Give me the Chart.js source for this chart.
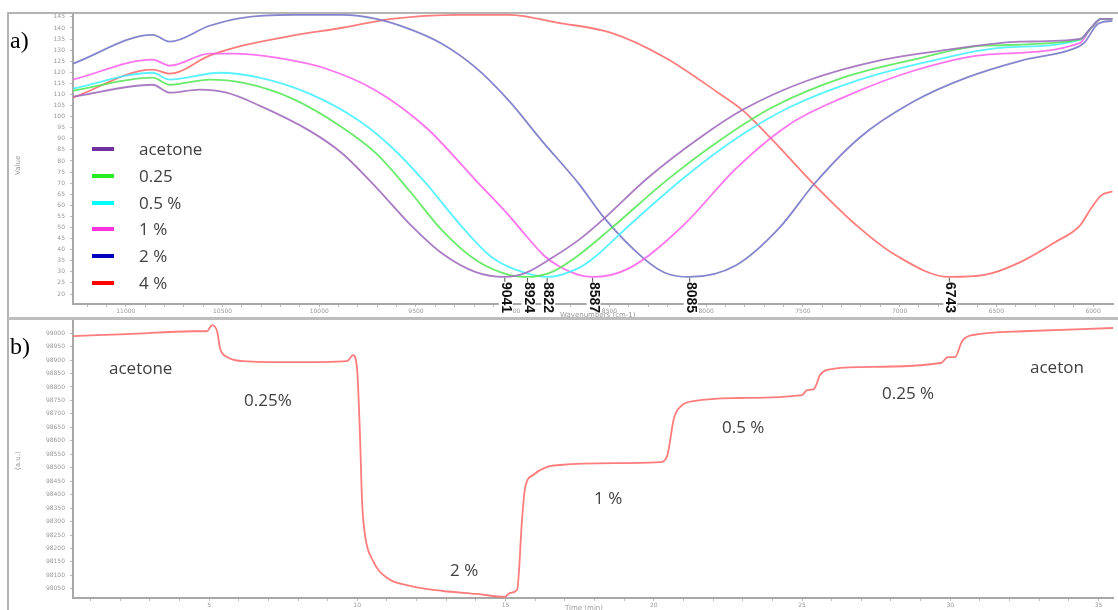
<!DOCTYPE html>
<html>
<head>
<meta charset="utf-8">
<script src="https://cdn.jsdelivr.net/npm/chart.js@4.4.1/dist/chart.umd.min.js"></script>
<style>
  html, body { margin:0; padding:0; background:#fff; }
  body { width:1118px; height:610px; position:relative; overflow:hidden; font-family:"Open Sans", sans-serif; }
  .abs { position:absolute; }
  .lbl { position:absolute; color:#404040; font-family:"Open Sans", sans-serif; font-size:17px; white-space:nowrap; line-height:1; }
  .panel { position:absolute; font-family:"Liberation Serif", serif; font-size:24px; color:#000; line-height:1; }
  .tiny { position:absolute; color:#999; font-size:7px; font-family:"DejaVu Sans", sans-serif; white-space:nowrap; }
  .leg { position:absolute; left:92px; width:22px; height:4px; }
</style>
</head>
<body>
<div class="abs" style="left:0;top:0;width:1118px;height:318px;"><canvas id="ca" width="1118" height="318"></canvas></div>
<div class="abs" style="left:0;top:318px;width:1118px;height:292px;"><canvas id="cb" width="1118" height="292"></canvas></div>

<div class="abs" style="left:8px;top:12px;width:1110px;height:2px;background:#b4b4b4;"></div>
<div class="abs" style="left:7px;top:12px;width:2px;height:598px;background:#b4b4b4;"></div>
<div class="abs" style="left:8px;top:317px;width:1110px;height:3px;background:#bdbdbd;"></div>

<div class="panel" style="left:10px;top:28px;">a)</div>
<div class="panel" style="left:10px;top:334px;">b)</div>

<div class="leg" style="top:147px;background:#7030a0;"></div>
<div class="leg" style="top:174px;background:#22ee22;"></div>
<div class="leg" style="top:201px;background:#00ffff;"></div>
<div class="leg" style="top:227px;background:#ff33dd;"></div>
<div class="leg" style="top:254px;background:#0000bb;"></div>
<div class="leg" style="top:281px;background:#ff0000;"></div>
<div class="lbl" style="left:139px;top:140px;">acetone</div>
<div class="lbl" style="left:139px;top:167px;">0.25</div>
<div class="lbl" style="left:139px;top:194px;">0.5 %</div>
<div class="lbl" style="left:139px;top:220px;">1 %</div>
<div class="lbl" style="left:139px;top:247px;">2 %</div>
<div class="lbl" style="left:139px;top:274px;">4 %</div>

<div class="lbl" style="left:109px;top:359px;">acetone</div>
<div class="lbl" style="left:244px;top:391px;">0.25%</div>
<div class="lbl" style="left:450px;top:561px;">2 %</div>
<div class="lbl" style="left:594px;top:489px;">1 %</div>
<div class="lbl" style="left:722px;top:418px;">0.5 %</div>
<div class="lbl" style="left:882px;top:384px;">0.25 %</div>
<div class="lbl" style="left:1030px;top:358px;">aceton</div>

<div class="tiny" style="left:560px;top:311px;">Wavenumbers (cm-1)</div>
<div class="tiny" style="transform:rotate(-90deg);transform-origin:left top;top:175px;left:14px;">Value</div>
<div class="tiny" style="left:14px;top:470px;transform:rotate(-90deg);transform-origin:left top;">(a.u.)</div>
<div class="tiny" style="left:565px;top:604px;">Time (min)</div>

<script>
// ---------- Panel a: spectra (wavenumber cm-1, value) ----------
const wnAcetone = [11273,10861,10773,10619,10479,10309,10051,9881,9706,9536,9366,9191,9041,8933,8799,8660,8526,8304,8031,7809,7479,7113,6747,6376,6067,6010,5958,5900];
const vAcetone  = [109.0,114.4,110.8,112.2,110.8,105.0,93.7,83.4,68.1,51.9,38.4,29.9,27.7,29.5,36.2,44.3,54.2,72.2,90.6,103.2,116.2,125.2,130.2,133.8,135.1,140.1,144.1,144.1];

const wn025 = [11273,10861,10773,10567,10397,10139,9881,9706,9536,9366,9191,9020,8924,8799,8660,8490,8211,7938,7660,7293,6928,6561,6067,6010,5958,5900];
const v025  = [111.7,117.6,114.4,116.7,115.3,108.1,95.1,83.4,66.8,48.8,35.3,28.6,27.7,29.9,37.5,49.7,70.8,88.8,104.1,117.6,125.7,132.0,134.7,140.1,144.1,144.1];

const wn05 = [11273,10861,10773,10515,10309,10051,9794,9624,9448,9278,9108,8933,8822,8660,8577,8397,8118,7845,7572,7206,6835,6469,6067,6010,5958,5900];
const v05  = [112.6,119.8,116.7,119.8,117.6,110.4,98.2,86.1,69.9,51.9,36.6,29.5,27.7,31.7,36.6,51.0,72.2,90.1,104.1,116.7,125.2,131.1,134.7,140.1,144.1,144.1];

const wn1 = [11273,10861,10773,10567,10448,10222,9964,9706,9448,9191,9020,8933,8840,8763,8660,8587,8397,8118,7845,7572,7293,6928,6561,6067,6010,5958,5900];
const v1  = [116.7,125.7,123.0,128.4,128.4,126.6,121.6,111.7,95.1,71.3,55.5,46.5,37.5,32.6,28.6,27.7,31.7,51.0,76.7,96.4,108.6,120.7,127.9,133.3,140.1,144.1,144.1];

const wn2 = [11273,10861,10773,10567,10397,10139,9881,9706,9536,9366,9191,9020,8850,8660,8526,8325,8211,8085,7845,7623,7443,7206,6928,6654,6376,6103,6046,5974,5900];
const v2  = [123.9,136.9,133.8,141.0,144.6,145.9,145.9,144.1,139.6,132.9,122.1,107.2,89.2,69.9,54.2,36.2,29.5,27.7,33.0,49.7,69.5,90.6,106.8,117.6,125.2,130.6,133.3,141.9,143.2];

const wn4 = [11273,10861,10773,10567,10397,10139,9881,9624,9278,9020,8763,8490,8211,7938,7809,7660,7443,7206,7020,6743,6561,6376,6196,6067,6010,5958,5900];
const v4  = [108.6,121.2,119.4,127.5,132.0,136.5,140.1,144.1,145.9,145.9,142.3,137.8,126.6,110.8,102.7,89.7,69.5,49.7,37.5,27.7,28.6,34.4,43.4,51.0,58.7,64.5,66.3];

const peakWn = [9041, 8924, 8822, 8587, 8085, 6743];
const peakLabels = ["9041", "8924", "8822", "8587", "8085", "6743"];
const peakValue = 27.7;

const wnTickLabels = [11000,10500,10000,9500,9000,8500,8000,7500,7000,6500,6000];
const valueTickLabels = [145,140,135,130,125,120,115,110,105,100,95,90,85,80,75,70,65,60,55,50,45,40,35,30,25,20];

// ---------- Panel b: time trace ----------
const timeB = [0.41,2.23,4.46,4.93,5.10,5.27,5.37,5.61,6.15,7.83,9.65,9.86,9.99,10.09,10.16,10.26,10.53,11.00,11.78,12.89,14.04,14.98,15.15,15.39,15.56,15.66,15.93,16.40,16.84,18.63,20.21,20.45,20.68,20.92,21.39,22.84,25.00,25.17,25.40,25.61,25.84,27.02,29.69,29.92,30.16,30.40,30.77,32.45,35.49];
const signalB = [98989,98996,99007,99007,99030,99007,98944,98911,98896,98892,98896,98918,98870,98621,98376,98250,98154,98091,98061,98042,98031,98020,98035,98046,98313,98425,98473,98503,98510,98517,98521,98543,98684,98729,98748,98759,98770,98788,98792,98844,98863,98874,98889,98911,98911,98970,98993,99007,99019];
const timeTickLabels = [5,10,15,20,25,30,35];
const signalTickLabels = [99000,98950,98900,98850,98800,98750,98700,98650,98600,98550,98500,98450,98400,98350,98300,98250,98200,98150,98100,98050];

function pts(xs, ys) { return xs.map((x, i) => ({x: x, y: ys[i]})); }

const axisColor = '#a8a8a8';
const tickFont = {size: 6, family: 'DejaVu Sans'};

function noPadY(s, w) { s.width = w; s.paddingTop = 0; s.paddingBottom = 0; }
function noPadX(s, h) { s.height = h; s.paddingLeft = 0; s.paddingRight = 0; }

const peakPlugin = {
  id: 'peaks',
  afterDraw(chart) {
    const ctx = chart.ctx;
    const xs = chart.scales.x, ys = chart.scales.y;
    const yTop = ys.getPixelForValue(peakValue) + 1;
    ctx.save();
    peakWn.forEach((w, i) => {
      const x = xs.getPixelForValue(w);
      ctx.fillStyle = '#fff';
      ctx.fillRect(x - 6, yTop + 3, 14, 36);
      ctx.strokeStyle = '#555';
      ctx.lineWidth = 1;
      ctx.beginPath(); ctx.moveTo(x, yTop); ctx.lineTo(x, yTop + 4); ctx.stroke();
      ctx.translate(x + 1, yTop + 4);
      ctx.rotate(Math.PI / 2);
      ctx.fillStyle = '#111';
      ctx.font = 'bold 14px "Liberation Sans", Arial, sans-serif';
      ctx.textBaseline = 'middle';
      ctx.textAlign = 'left';
      ctx.fillText(peakLabels[i], 0, 0);
      ctx.setTransform(1, 0, 0, 1, 0, 0);
    });
    ctx.restore();
  }
};

function lineDs(label, data, color) {
  return { label: label, data: data, borderColor: color, borderWidth: 1.8, pointRadius: 0,
           fill: false, cubicInterpolationMode: 'monotone' };
}

new Chart(document.getElementById('ca'), {
  type: 'line',
  data: {
    datasets: [
      lineDs('acetone', pts(wnAcetone, vAcetone), 'rgba(160,110,190,0.9)'),
      lineDs('0.25', pts(wn025, v025), 'rgba(80,230,80,0.85)'),
      lineDs('0.5 %', pts(wn05, v05), 'rgba(60,240,255,0.85)'),
      lineDs('1 %', pts(wn1, v1), 'rgba(255,90,235,0.85)'),
      lineDs('2 %', pts(wn2, v2), 'rgba(120,120,200,0.9)'),
      lineDs('4 %', pts(wn4, v4), 'rgba(255,110,110,0.9)')
    ]
  },
  options: {
    responsive: false, animation: false,
    layout: { padding: { left: 0, top: 14, right: 5, bottom: 0 } },
    plugins: { legend: { display: false }, tooltip: { enabled: false } },
    scales: {
      x: {
        type: 'linear', reverse: true, min: 5897, max: 11273,
        afterBuildTicks(s) {
          const t = [];
          for (let v = 6000; v <= 11200; v += 100) t.push({value: v});
          s.ticks = t;
        },
        afterFit(s) { noPadX(s, 14); },
        ticks: { autoSkip: false, maxRotation: 0, padding: 1, color: '#999', font: tickFont,
                 callback: v => wnTickLabels.includes(v) ? String(v) : '' },
        grid: { display: true, drawOnChartArea: false, drawTicks: true, tickLength: 3, color: '#bbb' },
        border: { display: true, color: axisColor, width: 2 }
      },
      y: {
        type: 'linear', min: 15.5, max: 146.3,
        afterBuildTicks(s) { s.ticks = valueTickLabels.map(v => ({value: v})); },
        afterFit(s) { noPadY(s, 73); },
        ticks: { autoSkip: false, padding: 5, color: '#999', font: tickFont, callback: v => String(v) },
        grid: { display: true, drawOnChartArea: false, drawTicks: true, tickLength: 3, color: '#bbb' },
        border: { display: true, color: axisColor, width: 2 }
      }
    }
  },
  plugins: [peakPlugin]
});

new Chart(document.getElementById('cb'), {
  type: 'line',
  data: { datasets: [ lineDs('signal', pts(timeB, signalB), 'rgba(255,110,110,0.9)') ] },
  options: {
    responsive: false, animation: false,
    layout: { padding: { left: 0, top: 3, right: 5, bottom: 0 } },
    plugins: { legend: { display: false }, tooltip: { enabled: false } },
    scales: {
      x: {
        type: 'linear', min: 0.41, max: 35.49,
        afterBuildTicks(s) {
          const t = [];
          for (let v = 1; v <= 35; v += 1) t.push({value: v});
          s.ticks = t;
        },
        afterFit(s) { noPadX(s, 12); },
        ticks: { autoSkip: false, maxRotation: 0, padding: 1, color: '#999', font: tickFont,
                 callback: v => timeTickLabels.includes(v) ? String(v) : '' },
        grid: { display: true, drawOnChartArea: false, drawTicks: true, tickLength: 3, color: '#bbb' },
        border: { display: true, color: axisColor, width: 2 }
      },
      y: {
        type: 'linear', min: 98016, max: 99045,
        afterBuildTicks(s) { s.ticks = signalTickLabels.map(v => ({value: v})); },
        afterFit(s) { noPadY(s, 73); },
        ticks: { autoSkip: false, padding: 5, color: '#999', font: tickFont, callback: v => String(v) },
        grid: { display: true, drawOnChartArea: false, drawTicks: true, tickLength: 3, color: '#bbb' },
        border: { display: true, color: axisColor, width: 2 }
      }
    }
  }
});
</script>
</body>
</html>
